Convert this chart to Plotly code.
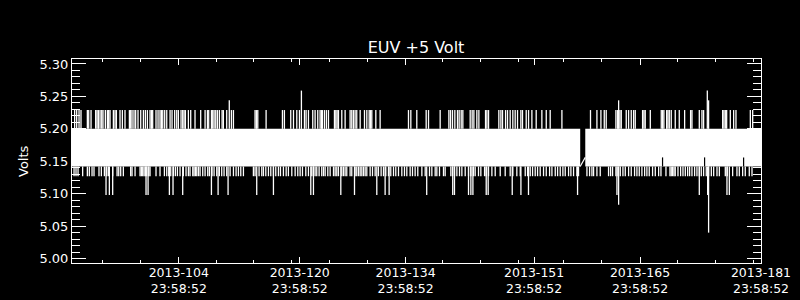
import plotly.graph_objects as go

# ---------------- data (day of year 2013, fractional) ----------------
band_low = 5.142
band_high = 5.200
band_starts = [90.88, 158.76]
band_ends = [158.09, 182.00]

up_level = 5.229
up_times = [
    91.23, 91.50, 91.81, 92.07, 92.91, 93.09, 93.40, 94.01, 94.19, 94.37, 94.59, 94.81, 94.98,
    95.29, 95.56, 95.73, 95.91, 96.35, 96.57, 96.75, 97.23, 97.54, 97.89, 98.47, 98.64, 98.82,
    99.08, 99.30, 99.61, 99.97, 100.32, 100.58, 100.85, 101.20, 101.38, 101.55, 101.99, 102.26,
    102.52, 102.70, 102.88, 103.14, 103.41, 103.85, 104.11, 104.46, 104.73, 104.95, 105.30,
    105.52, 105.70, 105.88, 106.27, 106.58, 107.15, 107.90, 108.48, 108.79, 108.96, 109.32,
    109.49, 109.67, 109.89, 110.11, 110.37, 110.73, 110.90, 111.34, 111.96, 112.23,
    115.09, 115.27, 115.45, 116.55, 118.71, 118.97, 119.81, 120.17, 120.61, 120.96, 121.62,
    121.84, 122.15, 122.72, 123.03, 123.38, 123.69, 123.87, 124.00, 124.27, 124.53, 124.80,
    125.59, 125.77, 125.94, 126.12, 126.56, 127.00, 127.66, 127.88, 128.10, 128.32, 128.54,
    128.99, 129.56, 129.87, 130.18, 130.35, 130.53, 131.06, 131.63, 135.38, 135.69, 136.48,
    137.72, 138.03, 139.57, 140.72, 140.94, 141.20, 141.51, 141.86, 142.08, 142.35, 142.57,
    143.54, 143.80, 144.03, 144.42, 144.69, 145.57, 145.75, 145.97, 147.33, 147.60, 147.82,
    148.22, 148.48, 148.83, 149.18, 149.49, 149.80, 150.24, 150.46, 150.95, 151.26, 151.70,
    152.27, 153.02, 153.60, 154.12, 155.67,
    159.45, 160.30, 160.83, 161.27, 161.53, 162.81, 163.03, 163.34, 163.52, 164.18, 164.49,
    164.84, 165.15, 165.37, 166.34, 166.52, 166.69, 167.36, 168.81, 168.99, 169.16, 169.52,
    169.69, 169.87, 170.13, 170.66, 171.19, 171.90, 172.69, 172.87, 173.84, 174.19, 174.41,
    176.93, 177.10, 177.28, 177.46, 177.94, 178.38, 178.69, 180.59, 180.90,
]
tall_up_times = [111.68, 121.22, 163.17, 174.90, 175.07]
tall_up_values = [5.244, 5.259, 5.244, 5.259, 5.244]

down_level = 5.127
down_times = [
    91.15, 91.41, 91.68, 92.29, 92.91, 93.17, 93.53, 93.79, 94.45, 94.76, 95.16, 95.47, 95.69,
    96.26, 96.84, 97.06, 97.32, 97.67, 98.64, 98.82, 99.22, 99.88, 100.05, 100.23, 100.41,
    100.58, 100.76, 101.03, 101.20, 101.99, 102.52, 103.10, 103.41, 103.67, 103.94, 104.29,
    104.55, 104.82, 105.17, 105.61, 105.96, 106.27, 106.49, 106.85, 107.02, 107.20, 107.38,
    107.60, 107.82, 108.17, 108.48, 108.83, 109.05, 109.40, 109.67, 110.02, 110.37, 110.68,
    110.99, 111.34, 111.79, 112.23, 112.58, 112.89, 113.20, 113.55,
    114.87, 115.09, 115.62, 115.98, 116.20, 116.51, 116.86, 117.17, 117.52, 117.83, 118.18,
    118.45, 118.84, 119.20, 119.50, 119.95, 120.39, 120.74, 121.05, 121.36, 121.80, 122.15,
    122.59, 122.81, 123.03, 123.25, 123.56, 123.91, 124.14, 124.36, 124.71, 125.02, 125.46,
    125.68, 125.90, 126.12, 126.56, 126.78, 127.00, 127.22, 127.66, 127.88, 128.32, 128.54,
    128.77, 128.99, 129.21, 129.43, 129.65, 129.87, 130.31, 130.62, 130.97, 131.41, 131.76,
    132.07, 132.38, 132.73, 133.04, 133.40, 133.70, 134.06, 134.50, 134.85, 135.16, 135.60,
    135.91, 136.26, 136.61,
    137.15, 137.59, 138.16, 138.47, 138.91, 139.13, 139.48, 140.01, 140.23, 140.98, 141.20,
    141.47, 141.78, 142.13, 142.44, 142.88, 143.32, 143.63, 143.98, 144.20, 144.64, 144.95,
    145.44, 145.66, 145.97, 146.41, 146.85, 147.51, 148.17, 148.83, 149.18, 149.71, 150.16,
    150.82, 151.13, 151.48, 151.79, 152.14, 152.45, 152.80, 153.24, 153.60, 154.04, 154.35,
    154.79, 155.10, 155.45, 155.80, 156.11, 156.55, 156.86, 157.21, 157.65, 157.87,
    158.98, 159.33, 159.64, 159.86,
    160.30, 160.74, 161.84, 162.11, 162.37, 162.81, 163.08, 163.39, 163.74, 164.05, 164.49,
    164.84, 165.28, 165.59, 165.90, 166.25, 166.61, 166.91, 167.22, 167.66, 168.02, 168.46,
    168.77, 169.43, 169.96, 170.13, 170.31, 170.49, 170.66, 171.02, 171.37, 171.68, 171.99,
    172.30, 172.56, 172.87, 173.22, 173.53, 173.84, 174.10, 174.41, 174.76, 175.07, 175.43,
    175.74, 176.18, 176.49, 177.28, 177.54, 178.25, 178.82, 179.13, 179.57, 179.92, 180.45,
    180.81,
]
deep_times = [
    95.38, 95.82, 96.26, 100.67, 100.94, 103.76, 104.24, 105.52, 109.32, 110.20, 111.52,
    115.31, 117.52, 122.46, 122.81, 126.43, 128.24, 131.19, 132.29, 132.82,
    137.79, 141.23, 141.46, 143.32, 143.63, 143.90, 145.66, 145.92, 149.10, 150.25, 151.25,
    157.74, 162.95, 163.17, 173.84, 174.94, 175.07, 177.50, 177.81,
]
deep_values = [
    5.098, 5.098, 5.098, 5.098, 5.098, 5.098, 5.098, 5.098, 5.098, 5.098, 5.098,
    5.098, 5.098, 5.098, 5.098, 5.098, 5.098, 5.098, 5.098, 5.098,
    5.098, 5.098, 5.098, 5.098, 5.098, 5.098, 5.098, 5.098, 5.098, 5.098, 5.098,
    5.098, 5.098, 5.083, 5.098, 5.098, 5.040, 5.098, 5.098,
]
notch_times = [168.98, 174.54, 179.70]
notch_value = 5.156
gap_x = [158.09, 158.76]
gap_y = [5.142, 5.156]

x_tick_vals = [104.999, 120.999, 134.999, 151.999, 165.999, 181.999]
x_tick_text = ["2013-104<br>23:58:52", "2013-120<br>23:58:52", "2013-134<br>23:58:52",
               "2013-151<br>23:58:52", "2013-165<br>23:58:52", "2013-181<br>23:58:52"]
x_minor_vals = [94.89, 99.92, 109.97, 114.92, 119.95, 124.98, 130.0, 139.93, 144.9,
                149.93, 155.9, 160.9, 170.97, 175.99, 181.0]
y_tick_vals = [5.00, 5.05, 5.10, 5.15, 5.20, 5.25, 5.30]
title_text = "EUV +5 Volt"
y_title = "Volts"


def segments(times, base, tops):
    xs, ys = [], []
    for t, v in zip(times, tops):
        xs += [t, t, None]
        ys += [base, v, None]
    return xs, ys


fig = go.Figure()

# band segments
for s, e in zip(band_starts, band_ends):
    fig.add_trace(go.Scatter(x=[s, e, e, s, s], y=[band_low, band_low, band_high, band_high, band_low],
                             mode="lines", fill="toself", fillcolor="white",
                             line=dict(width=0, color="white"), hoverinfo="skip"))

ux, uy = segments(up_times, band_high, [up_level] * len(up_times))
tx, ty = segments(tall_up_times, band_high, tall_up_values)
dx, dy = segments(down_times, band_low, [down_level] * len(down_times))
ex, ey = segments(deep_times, band_low, deep_values)
for xs, ys in [(ux, uy), (tx, ty), (dx, dy), (ex, ey)]:
    fig.add_trace(go.Scatter(x=xs, y=ys, mode="lines", line=dict(color="white", width=1.3),
                             hoverinfo="skip"))

nx, ny = segments(notch_times, band_low, [notch_value] * len(notch_times))
fig.add_trace(go.Scatter(x=nx, y=ny, mode="lines", line=dict(color="black", width=1.2), hoverinfo="skip"))
fig.add_trace(go.Scatter(x=gap_x, y=gap_y, mode="lines", line=dict(color="white", width=1.2), hoverinfo="skip"))

font = dict(family="DejaVu Sans", color="white", size=13)
fig.update_layout(
    width=800, height=300,
    margin=dict(l=72, r=39, t=59, b=37),
    paper_bgcolor="black", plot_bgcolor="black",
    showlegend=False, font=font,
    title=dict(text=title_text, x=0.52, xref="container", xanchor="center",
               y=1 - 47.5 / 300, yref="container", yanchor="middle",
               font=dict(family="DejaVu Sans", color="white", size=16)),
    xaxis=dict(range=[90.88, 182.0], showline=True, linecolor="white", linewidth=1,
               mirror="ticks", ticks="inside", ticklen=6, tickcolor="white", tickwidth=1,
               tickmode="array", tickvals=x_tick_vals, ticktext=x_tick_text,
               tickfont=dict(family="DejaVu Sans", color="white", size=12.5),
               ticklabelstandoff=-2,
               showgrid=False, zeroline=False, automargin=False,
               minor=dict(tickmode="array", tickvals=x_minor_vals, ticks="inside",
                          ticklen=3, tickcolor="white", showgrid=False)),
    yaxis=dict(range=[4.9932, 5.3077], showline=True, linecolor="white", linewidth=1,
               mirror="ticks", ticks="inside", ticklen=14, tickcolor="white", tickwidth=1,
               tickmode="array", tickvals=y_tick_vals, tickformat=".2f",
               showgrid=False, zeroline=False, automargin=False,
               minor=dict(tick0=5.0, dtick=0.01, ticks="inside", ticklen=8,
                          tickcolor="white", showgrid=False)),
    annotations=[dict(text=y_title, textangle=-90, xref="paper", yref="paper",
                      x=(23 - 72) / 689.0, y=0.5, xanchor="center", yanchor="middle",
                      showarrow=False, font=font)],
)

fig.write_html("out.html")
